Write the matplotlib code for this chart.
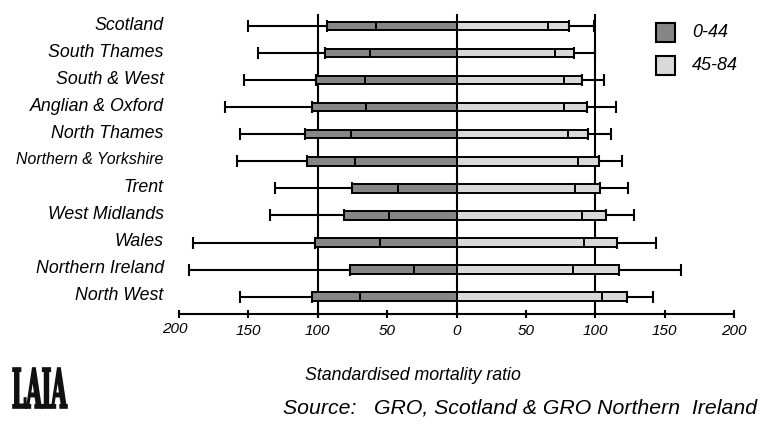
import numpy as np
import matplotlib
matplotlib.use('Agg')
import matplotlib.pyplot as plt
from matplotlib.patches import Rectangle, PathPatch
from matplotlib.textpath import TextPath
from matplotlib.font_manager import FontProperties
import matplotlib.transforms as mtransforms

regions = ['Scotland', 'South Thames', 'South & West', 'Anglian & Oxford',
           'North Thames', 'Northern & Yorkshire', 'Trent', 'West Midlands',
           'Wales', 'Northern Ireland', 'North West']

# 0-44 (drawn to the left): lower limit, SMR, upper limit
young_low = [57.7, 62.5, 66, 65.5, 76, 73, 42, 49, 55.4, 30.4, 69.6]
young_smr = [93.6, 95, 101, 104.5, 109, 107.5, 75, 81, 102, 77, 104.5]
young_up = [150, 143, 153, 167, 156, 158.5, 130.6, 134.7, 190, 192.5, 156]

# 45-84 (drawn to the right)
old_low = [65.6, 71.2, 77.2, 77.2, 80.6, 87.4, 85.2, 90.6, 92.2, 83.7, 105]
old_smr = [80.8, 84.5, 90.8, 94.2, 94.9, 102.4, 103.3, 108, 115.7, 117.1, 122.7]
old_up = [98.8, 99.7, 106.5, 115, 111.6, 119.6, 123.7, 128, 143.8, 162, 141.8]

ticks = [-200, -150, -100, -50, 0, 50, 100, 150, 200]
legend_labels = ['0-44', '45-84']

dark = '#868686'
light = '#d9d9d9'

plt.rcParams['font.family'] = ['Liberation Sans', 'DejaVu Sans']

fig = plt.figure(figsize=(7.71, 4.24), dpi=100)
ax = fig.add_axes([0.2322, 0.2594, 0.7198, 0.7075])

y = np.arange(len(regions))
h = 0.31
lw = 1.4

# reference lines
for xv in [-100, 0, 100]:
    ax.axvline(xv, color='black', lw=1.5, zorder=1)

# left side (negative)
yl = -np.array(young_low)
ys = -np.array(young_smr)
ax.barh(y, yl, height=h, color=dark, edgecolor='black', lw=lw, zorder=2)
ax.barh(y, ys - yl, left=yl, height=h, color=dark, edgecolor='black', lw=lw, zorder=2)
ax.errorbar(ys, y, xerr=[np.array(young_up) - np.array(young_smr), np.zeros(len(y))],
            fmt='none', ecolor='black', elinewidth=1.5, capsize=4.3, capthick=1.5, zorder=3)

# right side
ol = np.array(old_low)
os_ = np.array(old_smr)
ax.barh(y, ol, height=h, color=light, edgecolor='black', lw=lw, zorder=2)
ax.barh(y, os_ - ol, left=ol, height=h, color=light, edgecolor='black', lw=lw, zorder=2)
ax.errorbar(os_, y, xerr=[np.zeros(len(y)), np.array(old_up) - os_],
            fmt='none', ecolor='black', elinewidth=1.5, capsize=4.3, capthick=1.5, zorder=3)

ax.set_xlim(-200, 200)
ax.set_ylim(10.64, -0.443)

for s in ['left', 'top', 'right']:
    ax.spines[s].set_visible(False)
ax.spines['bottom'].set_linewidth(1.5)

ax.set_xticks(ticks)
ax.set_xticklabels([str(abs(t)) for t in ticks], fontsize=11, style='italic')
ax.tick_params(axis='x', direction='inout', length=6, width=1.5, pad=4)
# the left-most label sits a little up and left in the original
first = ax.get_xticklabels()[0]
first.set_transform(first.get_transform()
                    + mtransforms.ScaledTranslation(-4 / 100, 2 / 100, fig.dpi_scale_trans))

ax.set_yticks(y)
ax.set_yticklabels(regions, fontsize=12.8, style='italic')
ax.tick_params(axis='y', length=0, pad=11)
off = mtransforms.ScaledTranslation(0, 3 / 100, fig.dpi_scale_trans)
for lab in ax.get_yticklabels():
    lab.set_transform(lab.get_transform() + off)
    if lab.get_text() == 'Northern & Yorkshire':
        lab.set_fontsize(11.4)

# legend drawn by hand
for i, (c, t) in enumerate(zip([dark, light], legend_labels)):
    yy = 1 - (32.5 + i * 32.5) / 424
    fig.patches.append(Rectangle((656 / 771, yy - 9.5 / 424), 19 / 771, 19 / 424,
                                 transform=fig.transFigure, facecolor=c,
                                 edgecolor='black', lw=1.5))
    fig.text(692 / 771, yy, t, fontsize=13, style='italic', va='center')

fig.text(413 / 771, 1 - 375 / 424, 'Standardised mortality ratio', fontsize=12.8,
         style='italic', ha='center', va='center')
fig.text(283 / 771, 1 - 408 / 424, 'Source:   GRO, Scotland & GRO Northern  Ireland',
         fontsize=15.3, style='italic', va='center')

# logo, squeezed into its box (inches from bottom-left)
tp = TextPath((0, 0), 'LAIA', size=1,
              prop=FontProperties(family='DejaVu Serif', weight='bold'))
bb = tp.get_extents()
tr = (mtransforms.Affine2D().translate(-bb.x0, -bb.y0)
      .scale(0.54 / bb.width, 0.40 / bb.height).translate(0.13, 0.16)
      + fig.dpi_scale_trans)
fig.patches.append(PathPatch(tp, transform=tr, facecolor='#111111',
                             edgecolor='#111111', lw=1.2))

fig.savefig('out.png', dpi=100)
